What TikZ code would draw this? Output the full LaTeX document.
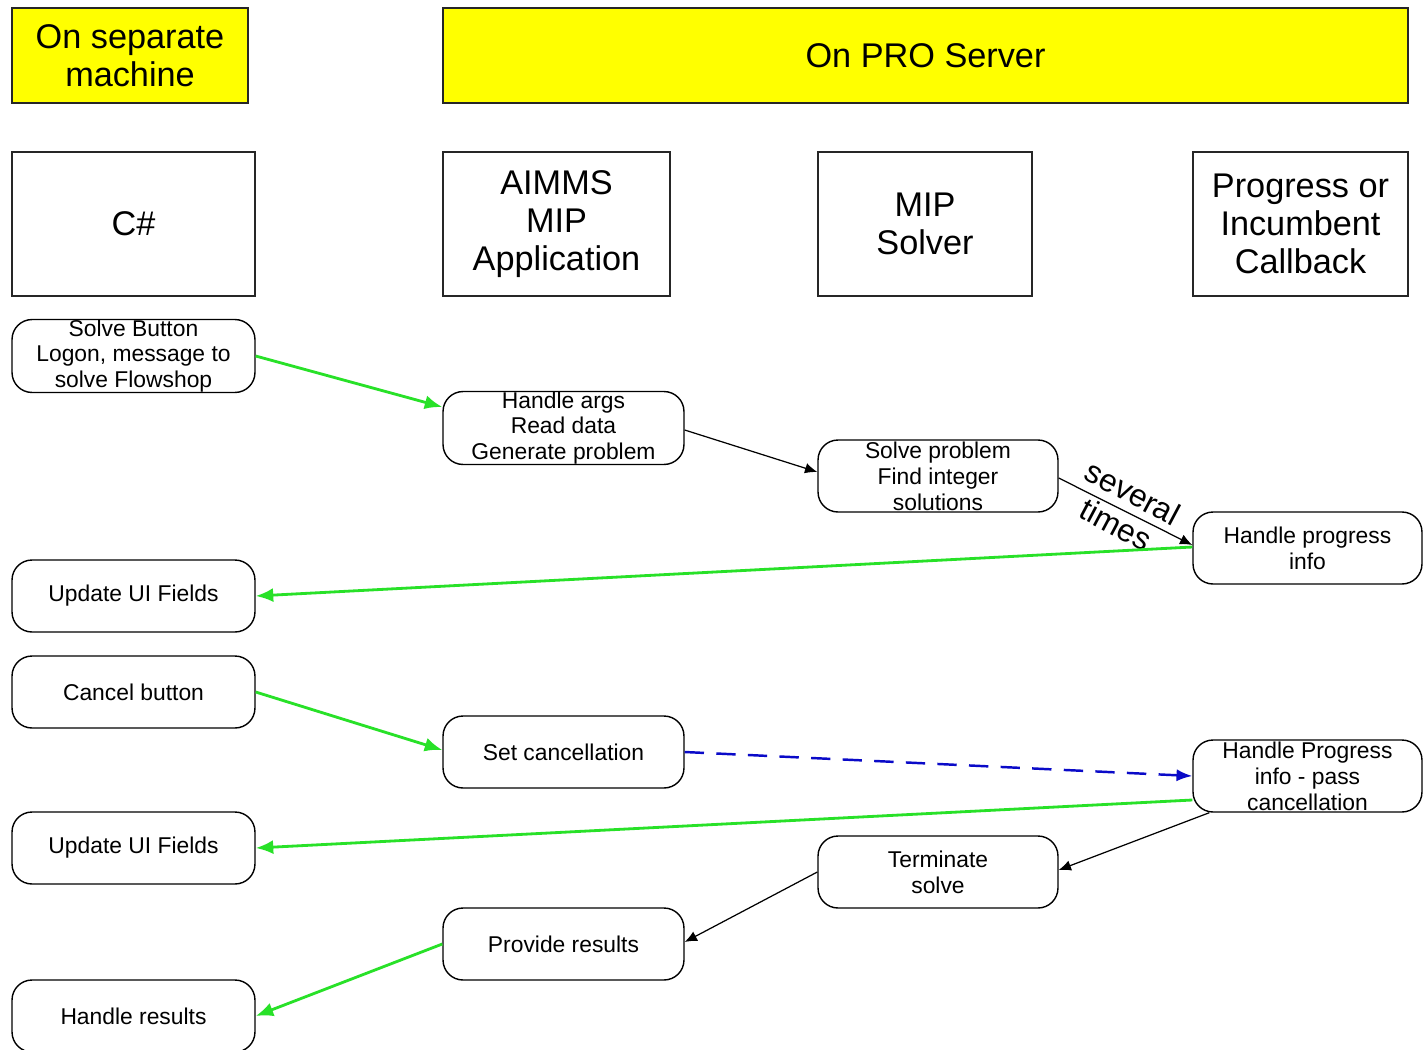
\documentclass[tikz,border=0pt]{standalone}
\usepackage{fontspec}
\setmainfont{Liberation Sans}
\usetikzlibrary{arrows.meta}
\definecolor{hdryellow}{RGB}{255,255,0}
\definecolor{arrgreen}{RGB}{40,225,40}
\definecolor{arrblue}{RGB}{10,10,200}
\begin{document}
\begin{tikzpicture}[x=0.02cm,y=-0.02cm,
  hdr/.style={draw=black!85,line width=1pt,fill=hdryellow,align=center,inner sep=0pt,
    font=\fontsize{19.5}{21.5}\selectfont},
  lane/.style={draw=black!85,line width=1pt,align=center,inner sep=0pt,
    minimum height=2.88cm,font=\fontsize{19.5}{21.5}\selectfont},
  stepbox/.style={draw=black,line width=0.8pt,rounded corners=0.4cm,align=center,inner sep=0pt,
    minimum height=1.44cm,font=\fontsize{13}{14.7}\selectfont},
  blk/.style={draw=black,line width=0.7pt,-{Latex[length=7pt,width=6pt]}},
  grn/.style={draw=arrgreen,line width=1.6pt,-{Latex[length=10pt,width=8pt]}},
  blu/.style={draw=arrblue,line width=1.4pt,dash pattern=on 11pt off 7pt,-{Latex[length=9pt,width=7pt]}},
  lbl/.style={font=\fontsize{18}{20.5}\selectfont,align=center,inner sep=0pt}
]
\useasboundingbox[fill=white] (0,0) rectangle (1424,1049);

% headers
\node[hdr,minimum width=4.72cm,minimum height=1.9cm] (sep) at (130,55.5) {On separate\\machine};
\node[hdr,minimum width=19.3cm,minimum height=1.9cm] (pro) at (925.5,55.5) {On PRO Server};

% lanes
\node[lane,minimum width=4.86cm] (cs) at (133.5,224) {C\#};
\node[lane,minimum width=4.54cm] (aimms) at (556.5,224) {AIMMS\\MIP\\Application};
\node[lane,minimum width=4.28cm] (mip) at (925,224) {MIP\\Solver};
\node[lane,minimum width=4.3cm] (prog) at (1300.5,224) {Progress or\\Incumbent\\Callback};

% steps
\node[stepbox,minimum width=4.86cm] (sb) at (133.5,356) {Solve Button\\Logon, message to\\solve Flowshop};
\node[stepbox,minimum width=4.82cm] (ha) at (563.5,428) {Handle args\\Read data\\Generate problem};
\node[stepbox,minimum width=4.8cm] (sp) at (938,476) {Solve problem\\Find integer\\solutions};
\node[stepbox,minimum width=4.58cm] (hp) at (1307.5,548) {Handle progress\\info};
\node[stepbox,minimum width=4.86cm] (ui1) at (133.5,596) {Update UI Fields};
\node[stepbox,minimum width=4.86cm] (cb) at (133.5,692) {Cancel button};
\node[stepbox,minimum width=4.82cm] (sc) at (563.5,752) {Set cancellation};
\node[stepbox,minimum width=4.58cm] (hpp) at (1307.5,776) {Handle Progress\\info - pass\\cancellation};
\node[stepbox,minimum width=4.86cm] (ui2) at (133.5,848) {Update UI Fields};
\node[stepbox,minimum width=4.8cm] (ts) at (938,872) {Terminate\\solve};
\node[stepbox,minimum width=4.82cm] (pr) at (563.5,944) {Provide results};
\node[stepbox,minimum width=4.86cm] (hr) at (133.5,1016) {Handle results};

% connectors
\draw[grn] (sb.east) -- ([yshift=0.42cm]ha.west);
\draw[blk] ([yshift=-0.04cm]ha.east) -- ([yshift=0.08cm]sp.west);
\draw[blk] ([yshift=-0.04cm]sp.east) -- coordinate[pos=0.5] (mid) ([yshift=0.06cm]hp.west);
\node[lbl,rotate=-28] (sev) at ([xshift=-0.02cm,yshift=0.06cm]mid) {several\\times};
\draw[grn] ([yshift=0.02cm]hp.west) -- (ui1.east);
\draw[grn] (cb.east) -- ([yshift=0.04cm]sc.west);
\draw[blu] (sc.east) -- (hpp.west);
\draw[grn] ([yshift=-0.48cm]hpp.west) -- (ui2.east);
\draw[blk] ([xshift=0.34cm]hpp.south west) -- ([yshift=0.04cm]ts.east);
\draw[blk] (ts.west) -- ([yshift=0.04cm]pr.east);
\draw[grn] (pr.west) -- (hr.east);
\end{tikzpicture}
\end{document}
